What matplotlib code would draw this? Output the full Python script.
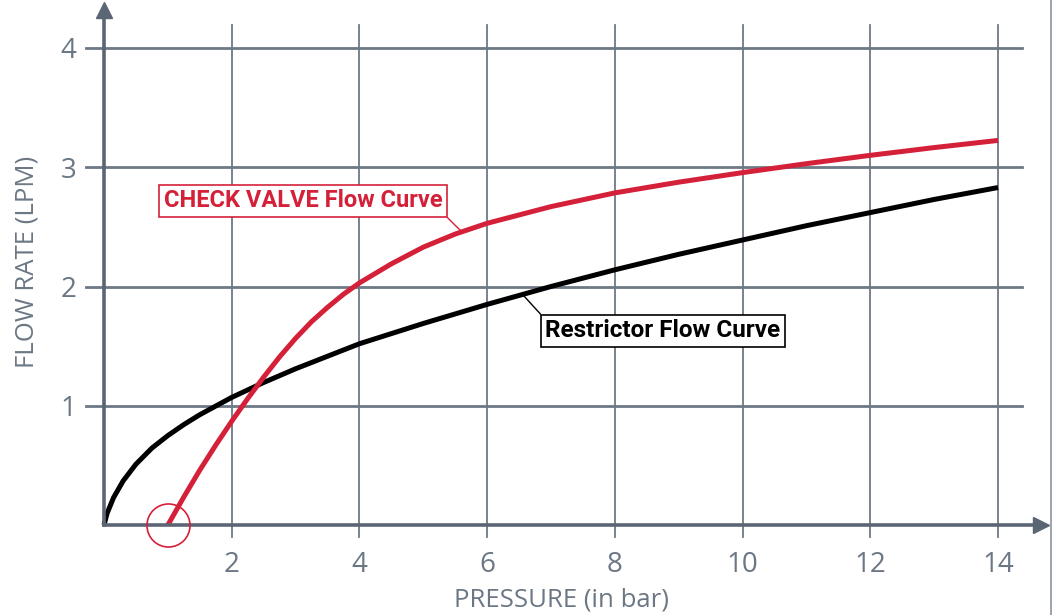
import matplotlib
matplotlib.use("Agg")
import matplotlib.pyplot as plt
from matplotlib.lines import Line2D
from matplotlib import font_manager

# ---- data ----
restrictor_x = [0, 0.05, 0.15, 0.3, 0.5, 0.75, 1.0, 1.25, 1.5, 2.0, 2.5, 3.0, 4.0, 5.0, 6.0, 7.0, 8.0, 9.0, 10.0, 11.0, 12.0, 13.0, 14.0]
restrictor_y = [0, 0.1, 0.23, 0.37, 0.51, 0.645, 0.75, 0.842, 0.925, 1.07, 1.195, 1.31, 1.52, 1.69, 1.85, 2.0, 2.14, 2.27, 2.39, 2.51, 2.62, 2.73, 2.83]
check_x = [1.0, 1.25, 1.5, 1.75, 2.0, 2.25, 2.5, 2.75, 3.0, 3.25, 3.5, 3.75, 4.0, 4.5, 5.0, 5.5, 6.0, 7.0, 8.0, 9.0, 10.0, 11.0, 12.0, 13.0, 14.0]
check_y = [0.0, 0.235, 0.46, 0.67, 0.87, 1.06, 1.24, 1.41, 1.565, 1.705, 1.825, 1.935, 2.03, 2.19, 2.33, 2.44, 2.53, 2.67, 2.785, 2.875, 2.955, 3.03, 3.1, 3.165, 3.225]
x_ticks = [2, 4, 6, 8, 10, 12, 14]
y_ticks = [1, 2, 3, 4]
x_label = "PRESSURE (in bar)"
y_label = "FLOW RATE (LPM)"
check_label = "CHECK VALVE Flow Curve"
restrictor_label = "Restrictor Flow Curve"

# ---- style ----
GRID = "#6e7986"
AXIS = "#5b6674"
RED = "#d42139"
TXT = "#6b7784"
avail = {f.name for f in font_manager.fontManager.ttflist}
cond = "Liberation Sans Narrow" if "Liberation Sans Narrow" in avail else "Roboto"
lab_font = "Open Sans" if "Open Sans" in avail else "DejaVu Sans"

fig = plt.figure(figsize=(10.53, 6.15), dpi=100)
ax = fig.add_axes([104/1053, 90/615, 937/1053, 515/615])
ax.set_xlim(0, 937/63.86)
ax.set_ylim(0, 515/119.25)
for s in ["top", "right"]:
    ax.spines[s].set_visible(False)
for s in ["left", "bottom"]:
    ax.spines[s].set_color(AXIS)
    ax.spines[s].set_linewidth(2.6)
    ax.spines[s].set_zorder(4)

# arrows on axes
ax.plot([1], [0], marker=">", color=AXIS, markersize=12, transform=ax.transAxes, clip_on=False, zorder=5)
ax.plot([0], [1], marker="^", color=AXIS, markersize=12, transform=ax.transAxes, clip_on=False, zorder=5)

# grid lines (extend beyond axis as ticks)
for yv in y_ticks:
    ax.plot([-0.28, 14.38], [yv, yv], color=GRID, lw=2.0, clip_on=False, zorder=1)
for xv in x_ticks:
    ax.plot([xv, xv], [-0.1, 4.19], color=GRID, lw=1.3, clip_on=False, zorder=1)

ax.set_xticks(x_ticks)
ax.set_yticks(y_ticks)
ax.tick_params(length=0, labelsize=20, labelcolor=TXT)
ax.tick_params(axis="x", pad=19)
ax.tick_params(axis="y", pad=20)
for lab in ax.get_xticklabels() + ax.get_yticklabels():
    lab.set_fontfamily(lab_font)
    lab.set_fontweight("normal")

ax.set_xlabel(x_label, fontsize=18.5, color=TXT, fontfamily=lab_font, va="center")
ax.xaxis.set_label_coords((562-104)/937, -(600-525)/515, transform=ax.transAxes)
ax.set_ylabel(y_label, fontsize=18.5, color=TXT, fontfamily=lab_font, va="center")
ax.yaxis.set_label_coords(-(104-27)/937, (525-262)/515, transform=ax.transAxes)

# curves
ax.plot(restrictor_x, restrictor_y, color="black", lw=3.6, solid_capstyle="butt", zorder=3, clip_on=False)
ax.plot(check_x, check_y, color=RED, lw=3.6, solid_capstyle="butt", zorder=3, clip_on=False)

# circle at check valve start
ax.plot([check_x[0]], [check_y[0]], marker="o", markersize=31, fillstyle="none",
        markeredgecolor=RED, markeredgewidth=1.2, zorder=6, clip_on=False)

# annotations
ax.annotate(check_label, xy=(5.6, 2.46), xytext=(3.116, 2.717), ha="center", va="center",
            fontsize=17, fontweight="bold", color=RED, fontfamily=[cond, "Roboto"],
            bbox=dict(boxstyle="square,pad=0.2", fc="white", ec=RED, lw=1.2),
            arrowprops=dict(arrowstyle="-", color=RED, lw=1.0, relpos=(1, 0), shrinkA=0, shrinkB=0),
            zorder=7)
ax.annotate(restrictor_label, xy=(6.56, 1.93), xytext=(8.753, 1.627), ha="center", va="center",
            fontsize=17.5, fontweight="bold", color="black", fontfamily=[cond, "Roboto"],
            bbox=dict(boxstyle="square,pad=0.2", fc="white", ec="black", lw=1.2),
            arrowprops=dict(arrowstyle="-", color="black", lw=1.0, relpos=(0, 1), shrinkA=0, shrinkB=0),
            zorder=7)

# right border line
fig.add_artist(Line2D([1051/1053, 1051/1053], [0, 1], color="#8a939e", lw=1.2))

fig.savefig("out.png", dpi=100)
